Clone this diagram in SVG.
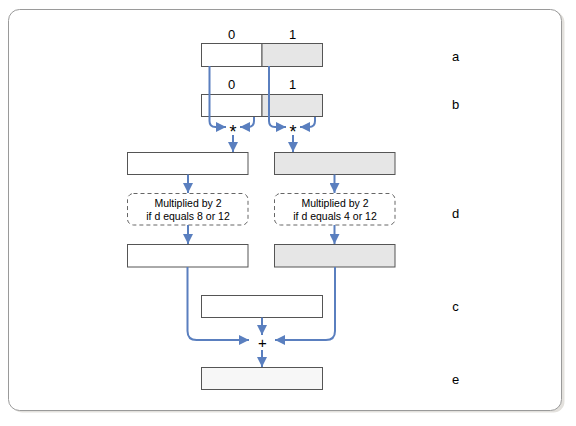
<svg xmlns="http://www.w3.org/2000/svg" width="576" height="426" viewBox="0 0 576 426">
<defs>
<style>
.box{stroke:#555;stroke-width:1}
.w{fill:#fff}
.g{fill:#e6e6e6}
.e{fill:#f7f7f7}
.dash{fill:#fff;stroke:#666;stroke-width:1;stroke-dasharray:4,3}
.lbl{font-family:"Liberation Sans",Arial,sans-serif;font-size:13px;fill:#000;text-anchor:middle}
.sm{font-family:"Liberation Sans",Arial,sans-serif;font-size:10.5px;fill:#000;text-anchor:middle}
.op{font-family:"Liberation Sans",Arial,sans-serif;font-size:15px;fill:#000;text-anchor:middle}
.ast{font-family:"Liberation Sans",Arial,sans-serif;font-size:18px;fill:#000;text-anchor:middle}
#connectors path{fill:none;stroke:#5a7fbf;stroke-width:2;marker-end:url(#ah)}
</style>
<marker id="ah" viewBox="0 0 10 10" refX="10" refY="5" markerWidth="10" markerHeight="10" markerUnits="userSpaceOnUse" orient="auto">
<path d="M0,0 L10,5 L0,10 z" fill="#5a7fbf"/>
</marker>
</defs>
<rect x="0" y="0" width="576" height="426" fill="#fff"/>
<g id="frame">
<rect x="11.5" y="11.5" width="553" height="401" rx="11" fill="#e3e1dd"/>
<rect x="8.5" y="9.5" width="553" height="401" rx="11" fill="#fff" stroke="#9a9a9a" stroke-width="1"/>
</g>
<g id="node-a">
<rect class="box w" x="201.5" y="43.5" width="60.5" height="23"/>
<rect class="box g" x="262" y="43.5" width="60.5" height="23"/>
<text class="lbl" x="231.5" y="38.5">0</text>
<text class="lbl" x="292.5" y="38.5">1</text>
</g>
<g id="node-b">
<rect class="box w" x="201.5" y="94.5" width="60.5" height="22"/>
<rect class="box g" x="262" y="94.5" width="60.5" height="22"/>
<text class="lbl" x="231.5" y="89">0</text>
<text class="lbl" x="292.5" y="89">1</text>
</g>
<g id="node-mul-left"><text class="ast" x="233" y="138">*</text></g>
<g id="node-mul-right"><text class="ast" x="293" y="138">*</text></g>
<g id="node-c1-left"><rect class="box w" x="127.5" y="152.5" width="120.5" height="22"/></g>
<g id="node-c1-right"><rect class="box g" x="274.5" y="152.5" width="120.5" height="22"/></g>
<g id="node-d-left">
<rect class="dash" x="127.5" y="193.5" width="120.5" height="31.5" rx="6"/>
<text class="sm" x="188" y="206.5">Multiplied by 2</text>
<text class="sm" x="188" y="219.5">if d equals 8 or 12</text>
</g>
<g id="node-d-right">
<rect class="dash" x="274.5" y="193.5" width="120.5" height="31.5" rx="6"/>
<text class="sm" x="335" y="206.5">Multiplied by 2</text>
<text class="sm" x="335" y="219.5">if d equals 4 or 12</text>
</g>
<g id="node-c2-left"><rect class="box w" x="127.5" y="244.5" width="120.5" height="22.5"/></g>
<g id="node-c2-right"><rect class="box g" x="274.5" y="244.5" width="120.5" height="22.5"/></g>
<g id="node-c"><rect class="box w" x="201.5" y="295.5" width="121" height="22"/></g>
<g id="node-plus"><text class="op" x="262.5" y="348">+</text></g>
<g id="node-e"><rect class="box e" x="201.5" y="367.5" width="121" height="22"/></g>
<g id="row-labels">
<text class="lbl" x="455.5" y="61">a</text>
<text class="lbl" x="455.5" y="109">b</text>
<text class="lbl" x="455.5" y="218">d</text>
<text class="lbl" x="455.5" y="311">c</text>
<text class="lbl" x="455.5" y="384">e</text>
</g>
<g id="connectors">
<path d="M209.5,66 V121 Q209.5,127 215.5,127 H226"/>
<path d="M254,117 V121 Q254,127 248,127 H240"/>
<path d="M269,66 V121 Q269,127 275,127 H286"/>
<path d="M315,117 V121 Q315,127 309,127 H300"/>
<path d="M233,135 V152"/>
<path d="M293,135 V152"/>
<path d="M188,174.5 V193"/>
<path d="M334.5,174.5 V193"/>
<path d="M188,225 V244"/>
<path d="M334.5,225 V244"/>
<path d="M187.5,267 V331 Q187.5,340 196.5,340 H249"/>
<path d="M335,267 V331 Q335,340 326,340 H275"/>
<path d="M262,317.5 V335"/>
<path d="M262,350 V367"/>
</g>
</svg>
